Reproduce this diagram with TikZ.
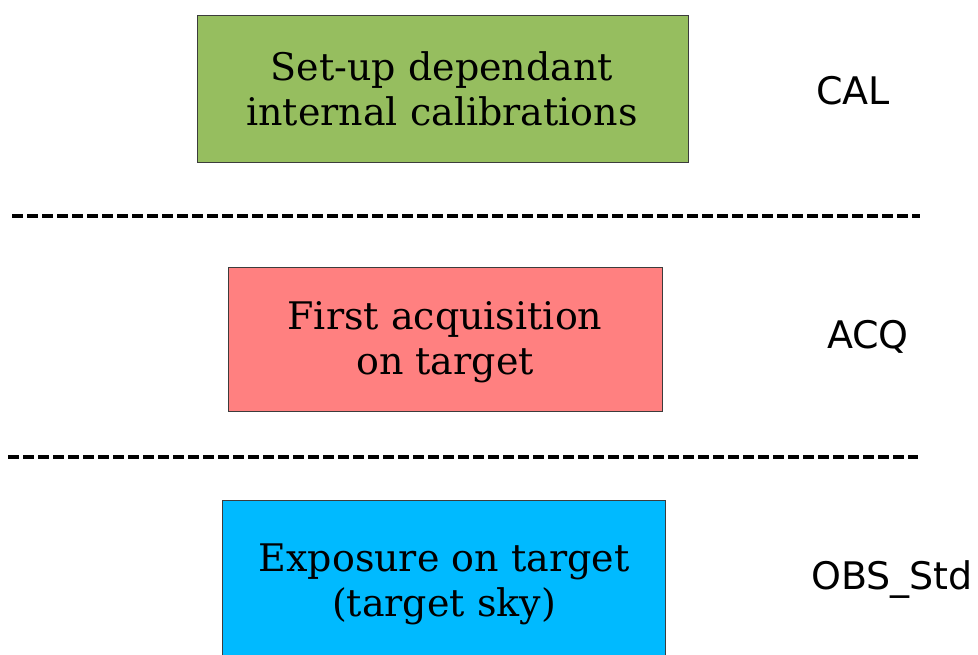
\documentclass[tikz,border=0pt]{standalone}
\usepackage{fontspec}
\setmainfont{DejaVu Serif}
\newfontfamily\labelfont{DejaVu Sans}
\definecolor{calgreen}{RGB}{150,190,95}
\definecolor{acqred}{RGB}{255,128,128}
\definecolor{obsblue}{RGB}{0,186,255}
\definecolor{edgegray}{RGB}{60,60,60}
\tikzset{
  stagebox/.style={draw=edgegray, line width=1pt, inner sep=0pt, text=black,
    align=center, font=\fontsize{38}{46}\selectfont},
  stagetext/.style={align=center, font=\fontsize{38}{45}\selectfont, inner sep=0pt},
  sep/.style={line width=4pt, dash pattern=on 11pt off 4pt},
  tag/.style={font=\labelfont\fontsize{38}{45}\selectfont, inner sep=0pt}
}
\begin{document}
\begin{tikzpicture}[x=1pt,y=-1pt]
\clip (0,0) rectangle (978,655);
\fill[white] (0,0) rectangle (978,655);
% boxes
\node[stagebox, fill=calgreen, anchor=north west, minimum width=491pt, minimum height=147pt] (cal) at (197,15) {};
\node[stagetext] (caltext) at (442,89) {Set-up dependant\\internal calibrations};
\node[stagebox, fill=acqred, anchor=north west, minimum width=434pt, minimum height=144pt] (acq) at (228,267) {};
\node[stagetext] (acqtext) at (445,342) {First acquisition\\on target};
\node[stagebox, fill=obsblue, anchor=north west, minimum width=443pt, minimum height=180pt] (obs) at (222,500) {};
\node[stagetext] (obstext) at (444,584) {Exposure on target\\(target sky)};
% separators
\coordinate (s1a) at (12,216);
\coordinate (s1b) at (920,216);
\coordinate (s2a) at (8,457);
\coordinate (s2b) at (918,457);
\draw[sep] (s1a) -- (s1b);
\draw[sep] (s2a) -- (s2b);
% labels
\node[tag] (lcal) at (853,91) {CAL};
\node[tag] (lacq) at (868,337) {ACQ};
\node[tag, anchor=west] (lobs) at (811,580) {OBS\_Std};
\end{tikzpicture}
\end{document}
